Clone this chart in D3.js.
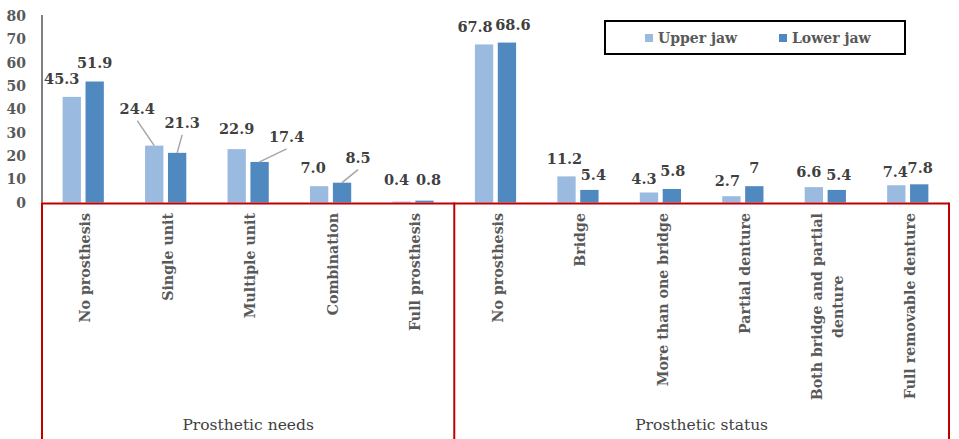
<!DOCTYPE html>
<html>
<head>
<meta charset="utf-8">
<script src="https://cdn.jsdelivr.net/npm/d3@7"></script>
<style>
  body { margin: 0; background: #fff; }
  svg { display: block; font-family: "DejaVu Serif", serif; }
</style>
</head>
<body>
<div id="chart"></div>
<script>
const categories = [
  "No prosthesis", "Single unit", "Multiple unit", "Combination", "Full prosthesis",
  "No prosthesis", "Bridge", "More than one bridge", "Partial denture",
  "Both bridge and partial\ndenture", "Full removable denture"
];
const groupNames = ["Prosthetic needs", "Prosthetic status"];
const groupSizes = [5, 6];
const seriesNames = ["Upper jaw", "Lower jaw"];
const upperJaw = [45.3, 24.4, 22.9, 7.0, 0.4, 67.8, 11.2, 4.3, 2.7, 6.6, 7.4];
const lowerJaw = [51.9, 21.3, 17.4, 8.5, 0.8, 68.6, 5.4, 5.8, 7, 5.4, 7.8];
const upperText = ["45.3", "24.4", "22.9", "7.0", "0.4", "67.8", "11.2", "4.3", "2.7", "6.6", "7.4"];
const lowerText = ["51.9", "21.3", "17.4", "8.5", "0.8", "68.6", "5.4", "5.8", "7", "5.4", "7.8"];
const yTicks = [0, 10, 20, 30, 40, 50, 60, 70, 80];

// label nudges [dx, dy, leader line?] relative to the default spot above each bar
const upperNudge = [[-10, 0], [-17, -19, 1], [0, -2], [-6, 0], [-5, -4], [-9, 0],
  [-2, 0], [-5, 4], [-4, 3], [-5, 3], [-1, 5]];
const lowerNudge = [[0, -1], [5, -12, 1], [27, -7, 1], [16, -7, 1], [4, -3], [6, 0],
  [4, 3], [1, 0], [0, 0], [2, 3], [1, 1]];

const colors = ["#9bbae0", "#4f89bf"];
const W = 959, H = 439;
const left = 42, right = 949, zeroY = 202.5;

const svg = d3.select("#chart").append("svg")
  .attr("width", W).attr("height", H);

const x0 = d3.scaleBand().domain(d3.range(categories.length)).range([left, right]);
const x1 = d3.scaleBand().domain(seriesNames).range([0, x0.bandwidth()])
  .paddingInner(0.2).paddingOuter(0.9);
const y = d3.scaleLinear().domain([0, 80]).range([zeroY, 16]);

// y axis labels
svg.append("g").selectAll("text").data(yTicks).join("text")
  .attr("x", 26).attr("y", d => y(d)).attr("dy", "0.36em")
  .attr("text-anchor", "end")
  .attr("font-size", 14).attr("font-weight", "bold").attr("fill", "#595959")
  .text(d => d);

svg.append("line")
  .attr("x1", left).attr("x2", left).attr("y1", 15).attr("y2", zeroY)
  .attr("stroke", "#000").attr("stroke-width", 1);

// bars
const series = [upperJaw, lowerJaw];
const texts = [upperText, lowerText];
const nudges = [upperNudge, lowerNudge];

series.forEach((vals, s) => {
  svg.append("g").selectAll("rect").data(vals).join("rect")
    .attr("x", (d, i) => x0(i) + x1(seriesNames[s]))
    .attr("width", x1.bandwidth())
    .attr("y", d => y(d))
    .attr("height", d => zeroY - y(d))
    .attr("fill", colors[s]);
});

// value labels and leader lines
series.forEach((vals, s) => {
  vals.forEach((v, i) => {
    const bx = x0(i) + x1(seriesNames[s]) + x1.bandwidth() / 2;
    const top = y(v);
    const [dx, dy, leader] = nudges[s][i];
    const lx = bx + dx, ly = top - 18 + dy;
    if (leader) {
      svg.append("line")
        .attr("x1", lx).attr("y1", ly + 12)
        .attr("x2", bx).attr("y2", top)
        .attr("stroke", "#a6a6a6").attr("stroke-width", 1.5);
    }
    svg.append("text")
      .attr("x", lx).attr("y", ly).attr("dy", "0.36em")
      .attr("text-anchor", "middle")
      .attr("font-size", 14.5).attr("font-weight", "bold").attr("fill", "#404040")
      .text(texts[s][i]);
  });
});

// category box (red)
const boxColor = "#c00000";
svg.append("line")
  .attr("x1", left).attr("x2", right).attr("y1", zeroY + 1).attr("y2", zeroY + 1)
  .attr("stroke", boxColor).attr("stroke-width", 2);
let start = 0;
const dividers = [0];
groupSizes.forEach(n => { start += n; dividers.push(start); });
svg.append("g").selectAll("line").data(dividers).join("line")
  .attr("x1", d => d === categories.length ? right : x0(d))
  .attr("x2", d => d === categories.length ? right : x0(d))
  .attr("y1", zeroY).attr("y2", H)
  .attr("stroke", boxColor).attr("stroke-width", 2);

// rotated category labels
categories.forEach((c, i) => {
  const lines = c.split("\n");
  const cx = x0(i) + x0.bandwidth() / 2 + 2;
  const g = svg.append("g")
    .attr("transform", `translate(${cx},213) rotate(-90)`);
  const lh = 21;
  const nodes = lines.map((ln, k) => g.append("text")
    .attr("x", 0)
    .attr("y", (k - (lines.length - 1) / 2) * lh)
    .attr("dy", "0.36em")
    .attr("font-size", 14.2).attr("font-weight", "bold").attr("fill", "#595959")
    .text(ln));
  const widths = nodes.map(n => n.node().getComputedTextLength());
  const maxW = d3.max(widths);
  nodes.forEach(n => n.attr("text-anchor", "middle").attr("x", -maxW / 2));
});

// group labels
let acc = 0;
groupNames.forEach((g, k) => {
  const a = x0(acc);
  const b = acc + groupSizes[k] === categories.length ? right : x0(acc + groupSizes[k]);
  acc += groupSizes[k];
  svg.append("text")
    .attr("x", (a + b) / 2).attr("y", 430)
    .attr("text-anchor", "middle")
    .attr("font-size", 15.5).attr("fill", "#404040")
    .text(g);
});

// legend
const legend = svg.append("g");
legend.append("rect")
  .attr("x", 605).attr("y", 21).attr("width", 300).attr("height", 33)
  .attr("fill", "#fff").attr("stroke", "#000").attr("stroke-width", 2);
const legendX = [645, 779];
seriesNames.forEach((n, s) => {
  legend.append("rect")
    .attr("x", legendX[s]).attr("y", 34).attr("width", 8).attr("height", 8)
    .attr("fill", colors[s]);
  legend.append("text")
    .attr("x", legendX[s] + 13).attr("y", 38).attr("dy", "0.36em")
    .attr("font-size", 14).attr("font-weight", "bold").attr("fill", "#595959")
    .text(n);
});
</script>
</body>
</html>
